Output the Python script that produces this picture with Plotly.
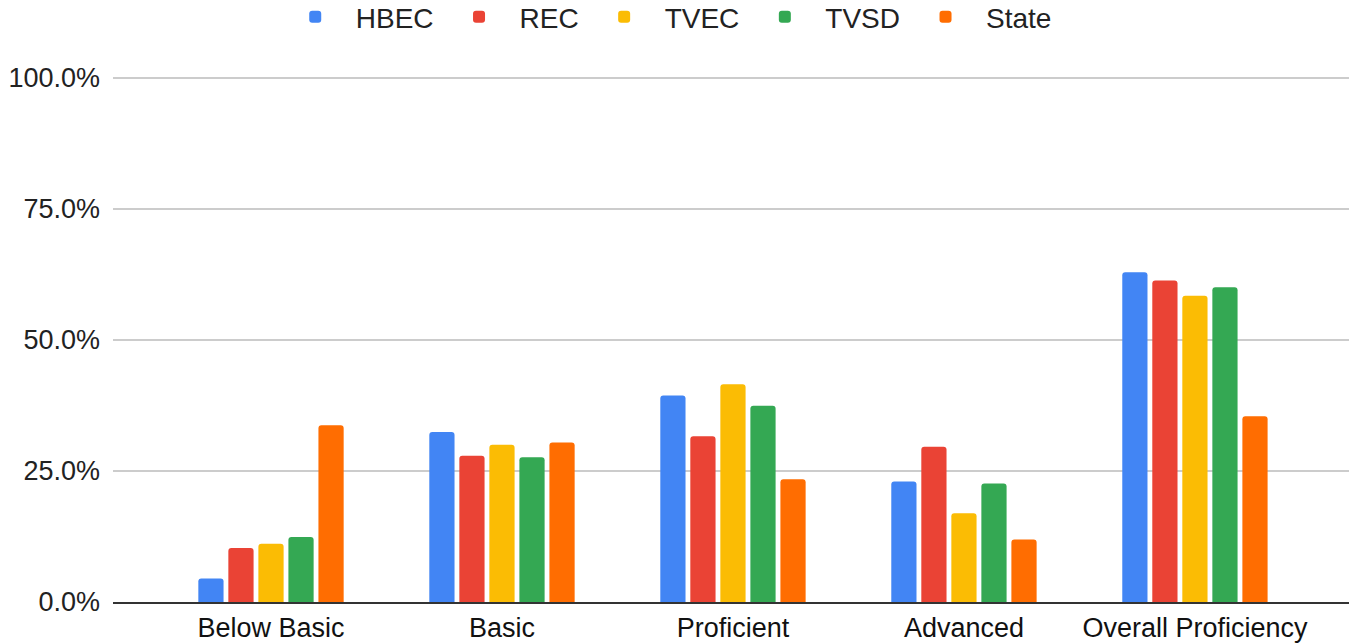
import plotly.graph_objects as go

categories = ["Below Basic", "Basic", "Proficient", "Advanced", "Overall Proficiency"]
series_names = ["HBEC", "REC", "TVEC", "TVSD", "State"]
hbec = [0.045, 0.324, 0.394, 0.230, 0.629]
rec = [0.103, 0.279, 0.316, 0.296, 0.613]
tvec = [0.111, 0.300, 0.415, 0.169, 0.584]
tvsd = [0.124, 0.276, 0.374, 0.226, 0.600]
state = [0.337, 0.304, 0.234, 0.119, 0.354]
colors = ["#4285F4", "#EA4335", "#FBBC04", "#34A853", "#FF6D01"]
y_ticks = [0, 0.25, 0.5, 0.75, 1.0]

fig = go.Figure()
for name, vals, col in zip(series_names, [hbec, rec, tvec, tvsd, state], colors):
    fig.add_trace(go.Bar(name=name, x=categories, y=vals, marker=dict(color=col, line=dict(width=0))))

fig.update_layout(
    width=1349, height=644,
    barmode="group", bargap=0.35, bargroupgap=0.16, barcornerradius=3,
    plot_bgcolor="white", paper_bgcolor="white",
    font=dict(family="Liberation Sans, Arial, sans-serif", color="#222222"),
    margin=dict(l=113, r=0, t=76, b=42, autoexpand=False),
    legend=dict(orientation="h", xref="container", x=0.4935, xanchor="center",
                y=1.112, yanchor="middle",
                font=dict(size=28, color="#222222"),
                itemwidth=71, traceorder="normal"),
    xaxis=dict(range=[-0.684, 4.667], showline=True, linecolor="#333333", linewidth=2,
               tickfont=dict(size=27, color="#111111"), ticks="", showgrid=False,
               automargin=False, ticklabelstandoff=1),
    yaxis=dict(range=[0, 1.003], tickvals=y_ticks, tickformat=".1%", showgrid=True,
               gridcolor="#cccccc", gridwidth=1.5, zeroline=False, automargin=False,
               tickfont=dict(size=27, color="#222222"), ticks="", ticklabelstandoff=12),
)
fig.write_html("out.html", config={"displayModeBar": False},
               post_script="document.body.style.margin='0';")
